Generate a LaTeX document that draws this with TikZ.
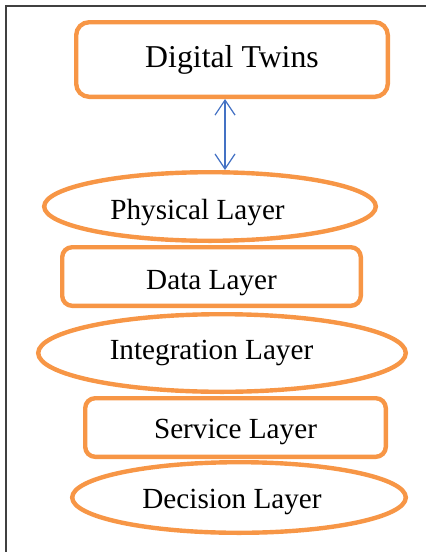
\documentclass[tikz,border=0pt]{standalone}
\usepackage{fontspec}
\setmainfont{Liberation Serif}
\usetikzlibrary{shapes.geometric, arrows.meta}
\definecolor{layerorange}{HTML}{F79646}
\definecolor{linkblue}{HTML}{4472C4}
\definecolor{framegray}{HTML}{404040}
\newcommand{\lowered}[2]{\raisebox{-#1}[\height][\depth]{#2}}
\tikzset{
  layer/.style={draw=layerorange,line width=2.2pt,inner sep=1pt,font=\fontsize{14.6}{17}\selectfont},
  layerbox/.style={layer,rectangle,rounded corners=5pt},
  layeroval/.style={layer,ellipse},
  link/.style={linkblue,line width=0.6pt,{Straight Barb[length=7.5pt,width=10pt]}-{Straight Barb[length=7.5pt,width=10pt]}},
}

\begin{document}
\begin{tikzpicture}[x=0.5pt,y=-0.5pt]
  \useasboundingbox (0,0) rectangle (426,552);
  \draw[framegray,line width=0.8pt] (6,552) -- (6,6) -- (426,6);

  \node[layerbox,rounded corners=6.5pt,minimum width=155.8pt,minimum height=37.3pt,font=\fontsize{15.9}{19}\selectfont] (twins) at (232,59.5) {Digital Twins};
  \node[layeroval,minimum width=165.8pt,minimum height=34.3pt] (physical) at (210,206.5) {\lowered{3pt}{Physical Layer}\hspace*{12.5pt}};
  \node[layerbox,minimum width=149.3pt,minimum height=29.3pt] (data) at (211.5,276.5) {\lowered{3.5pt}{Data Layer}};
  \node[layeroval,minimum width=183.8pt,minimum height=38.8pt] (integration) at (222,353) {Integration Layer\hspace*{10.5pt}};
  \node[layerbox,minimum width=150.3pt,minimum height=29.3pt] (service) at (235.5,427.5) {\lowered{2pt}{Service Layer}};
  \node[layeroval,minimum width=166.8pt,minimum height=35.3pt] (decision) at (239,497.5) {\lowered{2pt}{Decision Layer}\hspace*{7pt}};

  \draw[link] ([xshift=-3.5pt]twins.south) -- ([xshift=-3.5pt]twins.south |- physical.north);
\end{tikzpicture}
\end{document}
